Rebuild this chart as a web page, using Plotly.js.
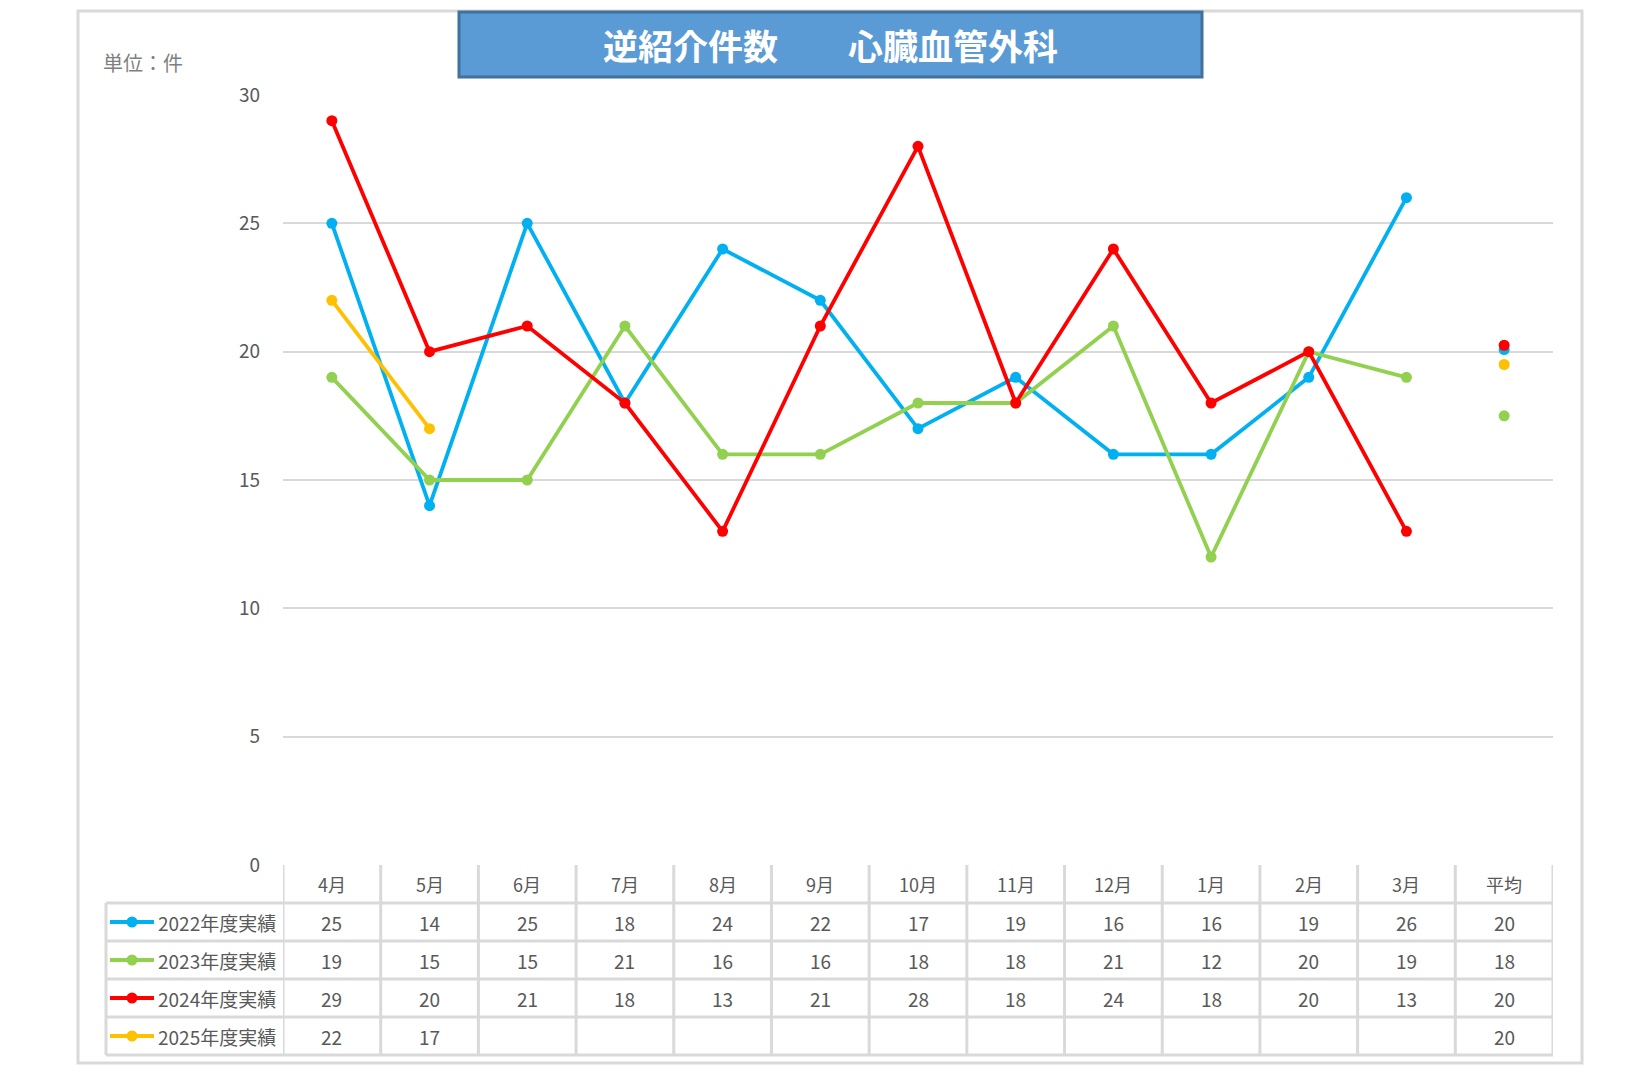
<!DOCTYPE html>
<html>
<head>
<meta charset="utf-8">
<script src="https://cdn.plot.ly/plotly-3.0.1.min.js"></script>
<style>
  body { margin: 0; background: #fff; }
  #graph { width: 1646px; height: 1084px; }
</style>
</head>
<body>
<div id="graph"></div>
<script>
var months = ["4月", "5月", "6月", "7月", "8月", "9月", "10月", "11月", "12月", "1月", "2月", "3月"];
var avgLabel = "平均";

var seriesNames = ["2022年度実績", "2023年度実績", "2024年度実績", "2025年度実績"];
var seriesColors = ["#00B0F0", "#92D050", "#FF0000", "#FFC000"];

var fy2022 = [25, 14, 25, 18, 24, 22, 17, 19, 16, 16, 19, 26];
var fy2023 = [19, 15, 15, 21, 16, 16, 18, 18, 21, 12, 20, 19];
var fy2024 = [29, 20, 21, 18, 13, 21, 28, 18, 24, 18, 20, 13];
var fy2025 = [22, 17];

// average dots (as plotted) and the rounded figure printed in the table
var avgValues = [20.08, 17.5, 20.25, 19.5];
var avgText = ["20", "18", "20", "20"];

var series = [fy2022, fy2023, fy2024, fy2025];
var categories = months.concat([avgLabel]);

// page geometry (pixels)
var W = 1646, H = 1084;
var L = 283, R = 1553, T = 95, B = 865;
var rowH = 38;
var labelLeft = 106;
var FONT = "Noto Sans CJK JP, Noto Sans, sans-serif";
var GRID = "#D9D9D9";
var TXT = "#595959";

function xp(px) { return (px - L) / (R - L); }
function yp(py) { return (B - py) / (B - T); }

var data = [];
series.forEach(function (vals, i) {
	data.push({
		x: months.slice(0, vals.length),
		y: vals,
		type: "scatter",
		mode: "lines+markers",
		name: seriesNames[i],
		line: { color: seriesColors[i], width: 3.8 },
		marker: { color: seriesColors[i], size: 11 },
		cliponaxis: false,
		hoverinfo: "skip"
	});
});
// averages drawn as lone dots, red on top like the original
[1, 3, 0, 2].forEach(function (i) {
	data.push({
		x: [avgLabel],
		y: [avgValues[i]],
		type: "scatter",
		mode: "markers",
		name: seriesNames[i] + " 平均",
		marker: { color: seriesColors[i], size: 11 },
		cliponaxis: false,
		hoverinfo: "skip"
	});
});

var shapes = [];
var annotations = [];

function label(opts) {
	opts.showarrow = false;
	if (!opts.xanchor) opts.xanchor = "center";
	opts.yanchor = "middle";
	annotations.push(opts);
}

// outer frame
shapes.push({ type: "rect", xref: "paper", yref: "paper",
	x0: xp(78), x1: xp(1582), y0: yp(11), y1: yp(1063),
	line: { color: GRID, width: 3 }, layer: "below" });

// title box
shapes.push({ type: "rect", xref: "paper", yref: "paper",
	x0: xp(459), x1: xp(1202), y0: yp(12), y1: yp(77),
	fillcolor: "#5B9BD5", line: { color: "#41719C", width: 3 } });
label({ xref: "paper", yref: "paper", x: xp(830), y: yp(44),
	text: "<b>逆紹介件数　　心臓血管外科</b>",
	font: { family: FONT, size: 35, color: "#FFFFFF" } });

// unit label
label({ xref: "paper", yref: "paper", x: xp(101), y: yp(63),
	xanchor: "left", text: "単位：件",
	font: { family: FONT, size: 20, color: "#7F7F7F" } });

// data table grid
var nRows = series.length;
var tableBottom = B + rowH * (nRows + 1);
for (var r = 1; r <= nRows + 1; r++) {
	var yy = B + rowH * r;
	shapes.push({ type: "line", xref: "paper", yref: "paper",
		x0: xp(labelLeft), x1: 1, y0: yp(yy), y1: yp(yy),
		line: { color: GRID, width: 3 } });
}
shapes.push({ type: "line", xref: "paper", yref: "paper",
	x0: xp(labelLeft), x1: xp(labelLeft), y0: yp(B + rowH), y1: yp(tableBottom),
	line: { color: GRID, width: 3 } });
for (var c = 0; c <= categories.length; c++) {
	shapes.push({ type: "line", xref: "x", yref: "paper",
		x0: c - 0.5, x1: c - 0.5, y0: 0, y1: yp(tableBottom),
		line: { color: GRID, width: 3 } });
}

// header row
categories.forEach(function (cat, c) {
	label({ xref: "x", yref: "paper", x: c, y: yp(B + rowH / 2),
		text: cat, font: { family: FONT, size: 18, color: TXT } });
});

// series rows with legend keys
series.forEach(function (vals, i) {
	var cy = B + rowH * (i + 1) + rowH / 2;
	shapes.push({ type: "line", xref: "paper", yref: "paper",
		x0: xp(110), x1: xp(154), y0: yp(cy), y1: yp(cy),
		line: { color: seriesColors[i], width: 3.8 } });
	shapes.push({ type: "circle", xref: "paper", yref: "paper",
		x0: xp(126.5), x1: xp(137.5), y0: yp(cy - 5.5), y1: yp(cy + 5.5),
		fillcolor: seriesColors[i], line: { width: 0 } });
	label({ xref: "paper", yref: "paper", x: xp(156), y: yp(cy),
		xanchor: "left", text: seriesNames[i],
		font: { family: FONT, size: 19, color: TXT } });
	vals.forEach(function (v, c) {
		label({ xref: "x", yref: "paper", x: c, y: yp(cy),
			text: String(v), font: { family: FONT, size: 19, color: TXT } });
	});
	label({ xref: "x", yref: "paper", x: months.length, y: yp(cy),
		text: avgText[i], font: { family: FONT, size: 19, color: TXT } });
});

var layout = {
	width: W,
	height: H,
	margin: { l: L, r: W - R, t: T, b: H - B, pad: 0 },
	paper_bgcolor: "#FFFFFF",
	plot_bgcolor: "#FFFFFF",
	showlegend: false,
	xaxis: {
		type: "category",
		categoryorder: "array",
		categoryarray: categories,
		range: [-0.5, categories.length - 0.5],
		showticklabels: false,
		showgrid: false,
		zeroline: false,
		showline: false,
		fixedrange: true
	},
	yaxis: {
		range: [0, 30],
		dtick: 5,
		showgrid: true,
		gridcolor: GRID,
		gridwidth: 2,
		zeroline: false,
		showline: false,
		ticks: "",
		ticklabelstandoff: 22,
		tickfont: { family: FONT, size: 19, color: TXT },
		fixedrange: true
	},
	shapes: shapes,
	annotations: annotations
};

Plotly.newPlot("graph", data, layout, { displayModeBar: false, staticPlot: true });
</script>
</body>
</html>
